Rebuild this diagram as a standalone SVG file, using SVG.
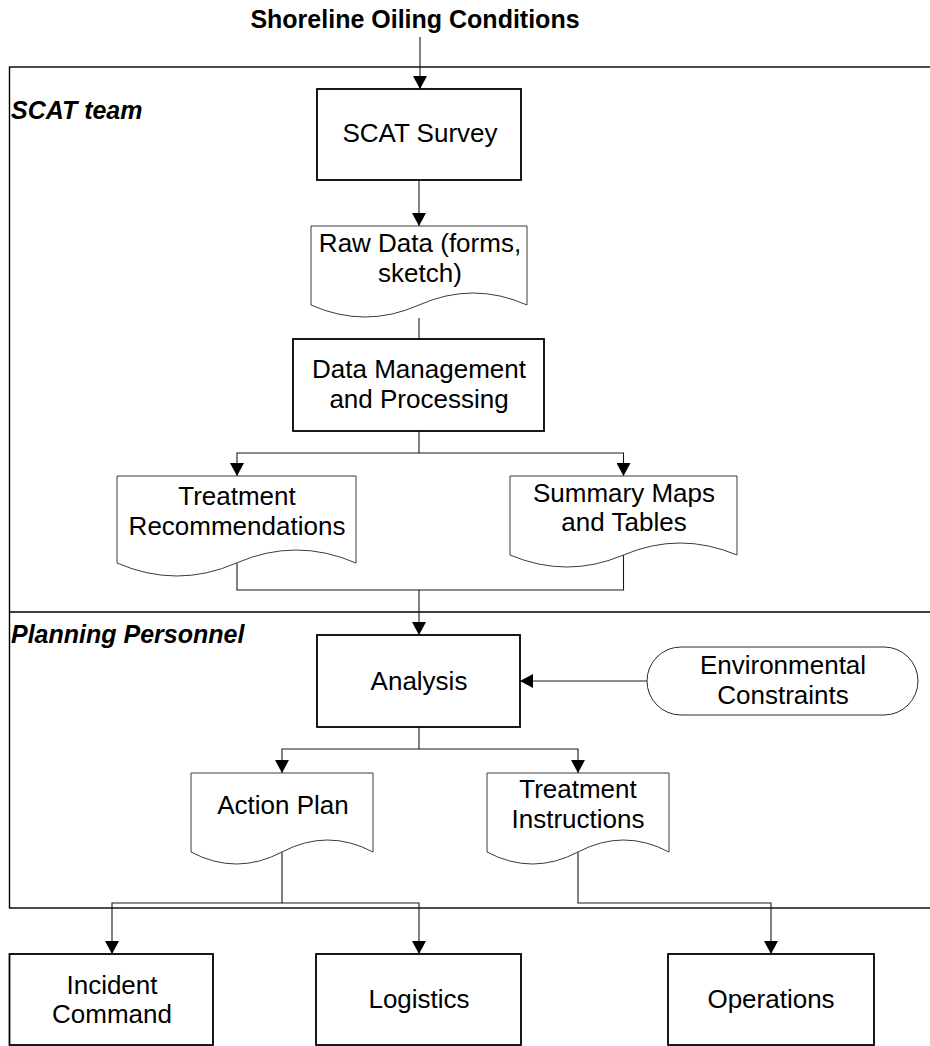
<svg xmlns="http://www.w3.org/2000/svg" width="930" height="1046" viewBox="0 0 930 1046">
  <style>
    .proc { fill: #ffffff; stroke: #000000; stroke-width: 1.8; }
    .doc { fill: #ffffff; stroke: #3a3a3a; stroke-width: 1; }
    .term { fill: #ffffff; stroke: #2a2a2a; stroke-width: 1; }
    .lane { fill: none; stroke: #000000; stroke-width: 1.4; }
    .conn { fill: none; stroke: #1a1a1a; stroke-width: 1.1; }
    .lbl { font-family: "Liberation Sans", Arial, sans-serif; font-size: 26px; fill: #000000; text-anchor: middle; }
    .title { font-family: "Liberation Sans", Arial, sans-serif; font-size: 25px; font-weight: bold; fill: #000000; text-anchor: middle; }
    .lanelbl { font-family: "Liberation Sans", Arial, sans-serif; font-size: 25px; font-weight: bold; font-style: italic; fill: #000000; }
  </style>
  <defs>
    <marker id="arrow" markerUnits="userSpaceOnUse" markerWidth="14" markerHeight="14" refX="13" refY="7" orient="auto">
      <path d="M0,0 L13,7 L0,14 Z" fill="#000000"/>
    </marker>
  </defs>

  <rect width="930" height="1046" fill="#ffffff"/>

  <!-- swimlanes -->
  <g id="lanes">
    <rect class="lane" x="9.5" y="67" width="940" height="841"/>
    <line class="lane" x1="9.5" y1="612" x2="940" y2="612"/>
    <text class="lanelbl" x="11" y="119">SCAT team</text>
    <text class="lanelbl" x="11" y="643">Planning Personnel</text>
  </g>

  <!-- input label -->
  <g id="shoreline-oiling">
    <text class="title" x="415" y="28">Shoreline Oiling Conditions</text>
  </g>

  <!-- connectors -->
  <g id="connectors">
    <line class="conn" x1="420" y1="37" x2="420" y2="89" marker-end="url(#arrow)" stroke="#555555"/>
    <line class="conn" x1="419" y1="180" x2="419" y2="226" marker-end="url(#arrow)"/>
    <line class="conn" x1="419" y1="318" x2="419" y2="339"/>
    <polyline class="conn" points="419,431 419,453 237,453 237,476" marker-end="url(#arrow)"/>
    <polyline class="conn" points="419,453 623.5,453 623.5,476" marker-end="url(#arrow)"/>
    <polyline class="conn" points="237,563 237,590 623.5,590 623.5,555"/>
    <line class="conn" x1="419" y1="590" x2="419" y2="635" marker-end="url(#arrow)"/>
    <line class="conn" x1="647" y1="681" x2="520" y2="681" marker-end="url(#arrow)"/>
    <polyline class="conn" points="419,727 419,749 282,749 282,773" marker-end="url(#arrow)"/>
    <polyline class="conn" points="419,749 578,749 578,773" marker-end="url(#arrow)"/>
    <polyline class="conn" points="282,852 282,903 112,903 112,954" marker-end="url(#arrow)"/>
    <polyline class="conn" points="282,903 419,903 419,954" marker-end="url(#arrow)"/>
    <polyline class="conn" points="578,852 578,903 771,903 771,954" marker-end="url(#arrow)"/>
  </g>

  <g id="scat-survey">
    <rect class="proc" x="317" y="89" width="204" height="91"/>
    <text class="lbl" x="420" y="142">SCAT Survey</text>
  </g>

  <g id="raw-data">
    <path class="doc" d="M311,226 H527 V305 Q473,281 419,305 T311,305 Z"/>
    <text class="lbl" x="420" y="252">Raw Data (forms,</text>
    <text class="lbl" x="420" y="282">sketch)</text>
  </g>

  <g id="data-management">
    <rect class="proc" x="293" y="339" width="251" height="92"/>
    <text class="lbl" x="419" y="378">Data Management</text>
    <text class="lbl" x="419" y="408">and Processing</text>
  </g>

  <g id="treatment-recommendations">
    <path class="doc" d="M117,476 H356 V563 Q296,537 236.5,563 T117,563 Z"/>
    <text class="lbl" x="237" y="505">Treatment</text>
    <text class="lbl" x="237" y="535">Recommendations</text>
  </g>

  <g id="summary-maps">
    <path class="doc" d="M510,476 H737 V555 Q680,531 623.5,555 T510,555 Z"/>
    <text class="lbl" x="624" y="502">Summary Maps</text>
    <text class="lbl" x="624" y="531">and Tables</text>
  </g>

  <g id="analysis">
    <rect class="proc" x="317" y="635" width="203" height="92"/>
    <text class="lbl" x="419" y="690">Analysis</text>
  </g>

  <g id="environmental-constraints">
    <rect class="term" x="647" y="647" width="271" height="68" rx="34" ry="34"/>
    <text class="lbl" x="783" y="674">Environmental</text>
    <text class="lbl" x="783" y="704">Constraints</text>
  </g>

  <g id="action-plan">
    <path class="doc" d="M191,773 H373 V852 Q327.5,828 282,852 T191,852 Z"/>
    <text class="lbl" x="283" y="814">Action Plan</text>
  </g>

  <g id="treatment-instructions">
    <path class="doc" d="M487,773 H669 V852 Q623.5,828 578,852 T487,852 Z"/>
    <text class="lbl" x="578" y="798">Treatment</text>
    <text class="lbl" x="578" y="828">Instructions</text>
  </g>

  <g id="incident-command">
    <rect class="proc" x="9.5" y="954" width="203.5" height="91"/>
    <text class="lbl" x="112" y="994">Incident</text>
    <text class="lbl" x="112" y="1023">Command</text>
  </g>

  <g id="logistics">
    <rect class="proc" x="316" y="954" width="205" height="91"/>
    <text class="lbl" x="419" y="1008">Logistics</text>
  </g>

  <g id="operations">
    <rect class="proc" x="668" y="954" width="206" height="91"/>
    <text class="lbl" x="771" y="1008">Operations</text>
  </g>
</svg>
